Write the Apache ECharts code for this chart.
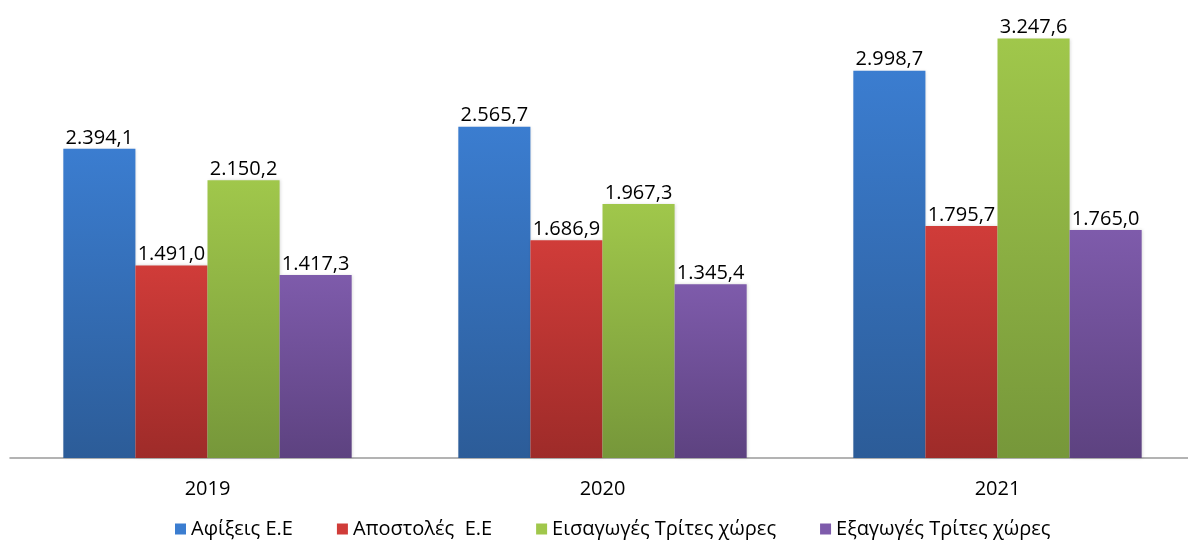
<!DOCTYPE html>
<html><head><meta charset="utf-8">
<script src="https://cdn.jsdelivr.net/npm/echarts@6/dist/echarts.min.js"></script>
<style>html,body{margin:0;padding:0;background:#fff;overflow:hidden;width:1188px;height:544px}#c{width:1195px;height:544px}</style>
</head><body><div id="c"></div>
<script>
const categories = ['2019', '2020', '2021'];
const seriesNames = ['Αφίξεις Ε.Ε', 'Αποστολές  Ε.Ε', 'Εισαγωγές Τρίτες χώρες', 'Εξαγωγές Τρίτες χώρες'];
const afixeis = [2394.1, 2565.7, 2998.7];
const apostoles = [1491.0, 1686.9, 1795.7];
const eisagoges = [2150.2, 1967.3, 3247.6];
const exagoges = [1417.3, 1345.4, 1765.0];
const values = [afixeis, apostoles, eisagoges, exagoges];
const colors = [['#3b7dd0', '#2c5c98'], ['#d03c39', '#9e2b29'], ['#a0c74b', '#76973a'], ['#7e5bab', '#5d4280']];

function fmt(v) {
  const parts = v.toFixed(1).split('.');
  return parts[0].replace(/\B(?=(\d{3})+(?!\d))/g, '.') + ',' + parts[1];
}
const FONT = '"Open Sans", "Noto Sans", sans-serif';
const chart = echarts.init(document.getElementById('c'));
chart.setOption({
  animation: false,
  grid: { left: 10, top: 6, right: 0, height: 452 },
  legend: {
    bottom: 0, left: 170, itemWidth: 11, itemHeight: 11, itemGap: 44,
    icon: 'rect',
    textStyle: { fontFamily: FONT, fontSize: 20, color: '#000' },
    data: seriesNames.map((n, i) => ({ name: n, itemStyle: { color: colors[i][0] } }))
  },
  xAxis: {
    type: 'category', data: categories,
    axisLine: { lineStyle: { color: '#9a9a9a', width: 1.5 } },
    axisTick: { show: false },
    axisLabel: { fontFamily: FONT, fontSize: 20, color: '#000', margin: 21 }
  },
  yAxis: { type: 'value', min: 0, max: 3500, show: false, splitLine: { show: false } },
  series: values.map((vals, i) => ({
    name: seriesNames[i], type: 'bar', data: vals,
    barGap: '0%', barCategoryGap: '27%',
    itemStyle: {
      color: new echarts.graphic.LinearGradient(0, 0, 0, 1, [
        { offset: 0, color: colors[i][0] }, { offset: 1, color: colors[i][1] }
      ]),
      shadowColor: 'rgba(0,0,0,0.15)', shadowBlur: 3, shadowOffsetX: 1
    },
    label: {
      show: true, position: 'top', distance: 1,
      fontFamily: FONT, fontSize: 20, color: '#000',
      formatter: p => fmt(p.value)
    }
  }))
});
</script></body></html>
